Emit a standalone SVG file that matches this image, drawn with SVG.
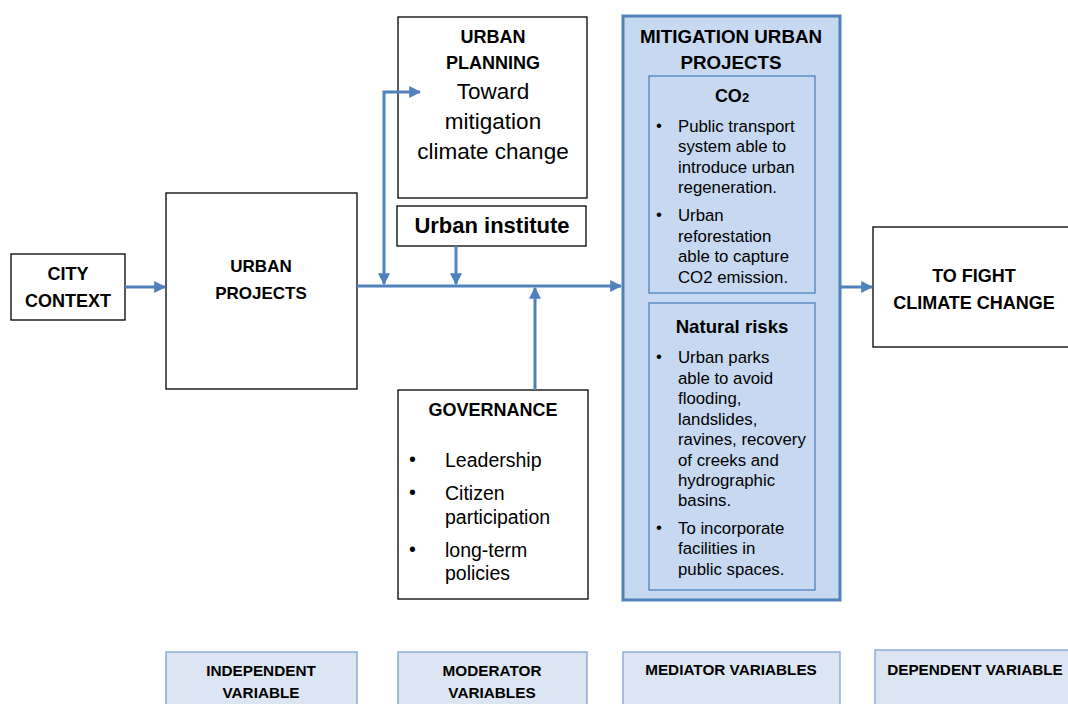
<svg xmlns="http://www.w3.org/2000/svg" width="1068" height="704" viewBox="0 0 1068 704">
<defs>
<marker id="ah" viewBox="0 0 10 10" refX="9" refY="5" markerWidth="4" markerHeight="4" orient="auto-start-reverse" markerUnits="strokeWidth">
<path d="M0,0 L10,5 L0,10 z" fill="#4f81bd"/>
</marker>
<style>
.box{fill:#fff;stroke:#000;stroke-width:1.3}
.mit{fill:#c6d9f1;stroke:#4f81bd;stroke-width:3}
.inner{fill:#c6d9f1;stroke:#4f81bd;stroke-width:1.3}
.leg{fill:#dce6f2;stroke:#7ea2cf;stroke-width:1.3}
.c{stroke:#4f81bd;stroke-width:3;fill:none}
text{font-family:"Liberation Sans",Arial,sans-serif;fill:#000}
.h{font-weight:bold;font-size:18px;text-anchor:middle}
.b{font-size:16.8px}
.g{font-size:19.5px}
.l{font-weight:bold;font-size:15.3px;text-anchor:middle}
</style>
</defs>
<rect width="1068" height="704" fill="#fff"/>

<g id="city-context">
<rect class="box" x="11" y="254" width="114" height="66"/>
<text class="h" x="68" y="280" font-size="17.5">CITY</text>
<text class="h" x="68" y="307" font-size="17.5">CONTEXT</text>
</g>

<g id="urban-projects">
<rect class="box" x="166" y="193" width="191" height="196"/>
<text class="h" x="261" y="272" style="font-size:17px">URBAN</text>
<text class="h" x="261" y="299" style="font-size:17px">PROJECTS</text>
</g>

<g id="urban-planning">
<rect class="box" x="398" y="17" width="189" height="181"/>
<text class="h" x="493" y="43">URBAN</text>
<text class="h" x="493" y="69">PLANNING</text>
<text x="493" y="99" font-size="22.5" text-anchor="middle">Toward</text>
<text x="493" y="129" font-size="22.5" text-anchor="middle">mitigation</text>
<text x="493" y="159" font-size="22.5" text-anchor="middle">climate change</text>
</g>

<g id="urban-institute">
<rect class="box" x="397" y="206" width="189" height="40"/>
<text x="492" y="233" font-size="22" font-weight="bold" text-anchor="middle">Urban institute</text>
</g>

<g id="governance">
<rect class="box" x="398" y="390" width="190" height="209"/>
<text class="h" x="493" y="416">GOVERNANCE</text>
<text class="g" x="409" y="466">•</text>
<text class="g" x="445" y="467">Leadership</text>
<text class="g" x="409" y="499">•</text>
<text class="g" x="445" y="500">Citizen</text>
<text class="g" x="445" y="524">participation</text>
<text class="g" x="409" y="556">•</text>
<text class="g" x="445" y="557">long-term</text>
<text class="g" x="445" y="580">policies</text>
</g>

<g id="mitigation-urban-projects">
<rect class="mit" x="623" y="16" width="217" height="584"/>
<text class="h" x="731" y="43" style="font-size:18.8px">MITIGATION URBAN</text>
<text class="h" x="731" y="69" style="font-size:18.8px">PROJECTS</text>
</g>

<g id="co2">
<rect class="inner" x="649" y="76" width="166" height="217"/>
<text class="h" x="732" y="102">CO<tspan font-size="13">2</tspan></text>
<text class="b" x="656" y="131">•</text>
<text class="b" x="678" y="132">Public transport</text>
<text class="b" x="678" y="152">system able to</text>
<text class="b" x="678" y="173">introduce urban</text>
<text class="b" x="678" y="193">regeneration.</text>
<text class="b" x="656" y="220">•</text>
<text class="b" x="678" y="221">Urban</text>
<text class="b" x="678" y="242">reforestation</text>
<text class="b" x="678" y="262">able to capture</text>
<text class="b" x="678" y="283">CO2 emission.</text>
</g>

<g id="natural-risks">
<rect class="inner" x="649" y="303" width="166" height="287"/>
<text class="h" x="732" y="333" style="font-size:18.6px">Natural risks</text>
<text class="b" x="656" y="362">•</text>
<text class="b" x="678" y="363">Urban parks</text>
<text class="b" x="678" y="384">able to avoid</text>
<text class="b" x="678" y="404">flooding,</text>
<text class="b" x="678" y="425">landslides,</text>
<text class="b" x="678" y="445">ravines, recovery</text>
<text class="b" x="678" y="466">of creeks and</text>
<text class="b" x="678" y="486">hydrographic</text>
<text class="b" x="678" y="506">basins.</text>
<text class="b" x="656" y="533">•</text>
<text class="b" x="678" y="534">To incorporate</text>
<text class="b" x="678" y="554">facilities in</text>
<text class="b" x="678" y="575">public spaces.</text>
</g>

<g id="to-fight-climate-change">
<rect class="box" x="873" y="227" width="200" height="120"/>
<text class="h" x="974" y="282">TO FIGHT</text>
<text class="h" x="974" y="309">CLIMATE CHANGE</text>
</g>

<g id="independent-variable">
<rect class="leg" x="166" y="652" width="191" height="60"/>
<text class="l" x="261" y="676">INDEPENDENT</text>
<text class="l" x="261" y="698">VARIABLE</text>
</g>
<g id="moderator-variables">
<rect class="leg" x="398" y="652" width="189" height="60"/>
<text class="l" x="492" y="676">MODERATOR</text>
<text class="l" x="492" y="698">VARIABLES</text>
</g>
<g id="mediator-variables">
<rect class="leg" x="623" y="652" width="217" height="60"/>
<text class="l" x="731" y="675">MEDIATOR VARIABLES</text>
</g>
<g id="dependent-variable">
<rect class="leg" x="875" y="650" width="200" height="60"/>
<text class="l" x="975" y="675">DEPENDENT VARIABLE</text>
</g>

<g id="connectors">
<path class="c" d="M125,287 H165" marker-end="url(#ah)"/>
<path class="c" d="M357,286 H621" marker-end="url(#ah)"/>
<path class="c" d="M420,92 H384 V284" marker-start="url(#ah)" marker-end="url(#ah)"/>
<path class="c" d="M456,246 V284" marker-end="url(#ah)"/>
<path class="c" d="M535,390 V288" marker-end="url(#ah)"/>
<path class="c" d="M840,287 H872" marker-end="url(#ah)"/>
</g>
</svg>
